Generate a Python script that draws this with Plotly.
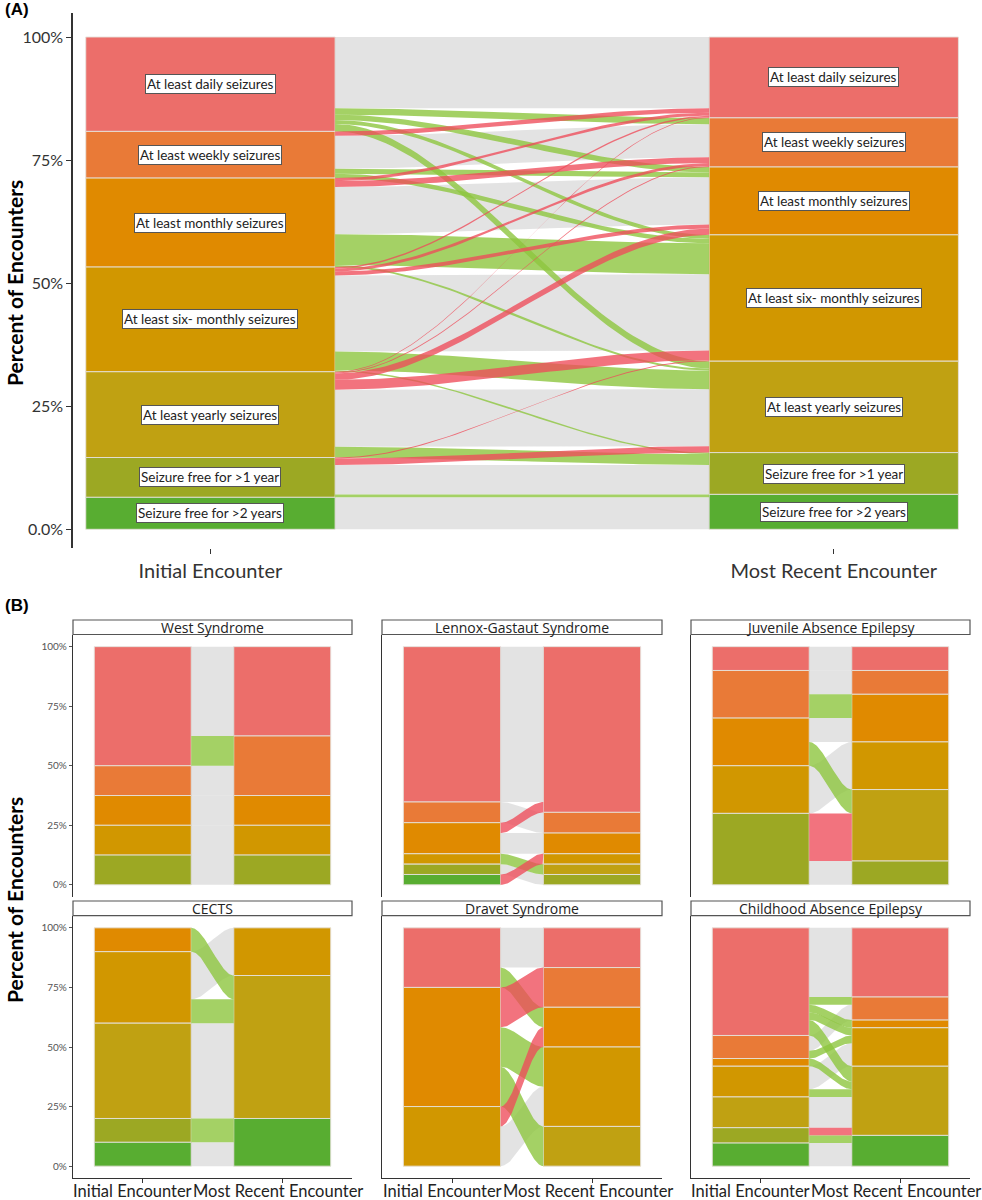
import numpy as np
import plotly.graph_objects as go

# ---------------- data ----------------
CATEGORIES = ["At least daily seizures", "At least weekly seizures", "At least monthly seizures",
              "At least six- monthly seizures", "At least yearly seizures",
              "Seizure free for >1 year", "Seizure free for >2 years"]
STRATUM_COLORS = ["#EC6E6A", "#E97A37", "#E08A00", "#D19700", "#C0A112", "#9CA823", "#58AD31"]
AXIS_LABELS = ["Initial Encounter", "Most Recent Encounter"]
Y_TICKS = [0, 25, 50, 75, 100]
Y_TICKTEXT_A = ["0.0%", "25%", "50%", "75%", "100%"]
Y_TICKTEXT_B = ["0%", "25%", "50%", "75%", "100%"]

# Panel A: transitions (percent of encounters), index into CATEGORIES
A_from = [0, 0, 0, 0, 0,
          1, 1, 1, 1,
          2, 2, 2, 2, 2,
          3, 3, 3, 3, 3, 3,
          4, 4, 4, 4, 4, 4,
          5, 5, 5, 5,
          6]
A_to = [0, 1, 2, 3, 4,
        0, 1, 2, 3,
        0, 1, 2, 3, 4,
        0, 1, 2, 3, 4, 5,
        0, 1, 2, 3, 4, 5,
        3, 4, 5, 6,
        6]
A_pct = [14.5, 1.3, 1.1, 0.8, 1.5,
         0.9, 6.7, 1.0, 0.9,
         0.6, 1.2, 9.6, 6.3, 0.4,
         0.3, 0.6, 0.8, 15.5, 3.8, 0.3,
         0.15, 0.2, 1.3, 2.0, 11.6, 2.2,
         0.2, 1.3, 6.0, 0.6,
         6.5]

# Panel B: encounter counts per syndrome
FACET_TITLES = ["West Syndrome", "Lennox-Gastaut Syndrome", "Juvenile Absence Epilepsy",
                "CECTS", "Dravet Syndrome", "Childhood Absence Epilepsy"]
west_from = [0, 0, 1, 2, 3, 5]
west_to = [0, 1, 1, 2, 3, 5]
west_n = [3, 1, 1, 1, 1, 1]
lgs_from = [0, 1, 2, 2, 3, 5, 6]
lgs_to = [0, 1, 0, 2, 4, 5, 3]
lgs_n = [15, 2, 1, 2, 1, 1, 1]
jae_from = [0, 1, 1, 2, 2, 3, 5, 5]
jae_to = [0, 1, 2, 2, 4, 3, 4, 5]
jae_n = [1, 1, 1, 1, 1, 2, 2, 1]
cects_from = [2, 3, 3, 4, 5, 6]
cects_to = [4, 3, 4, 4, 6, 6]
cects_n = [1, 2, 1, 4, 1, 1]
dravet_from = [0, 0, 2, 2, 2, 3, 3]
dravet_to = [0, 2, 1, 3, 4, 2, 3]
dravet_n = [2, 1, 2, 2, 2, 1, 2]
cae_from = [0, 0, 0, 0, 0, 1, 1, 2, 3, 3, 4, 5, 5, 6]
cae_to = [0, 1, 2, 3, 4, 1, 3, 4, 3, 4, 4, 4, 6, 6]
cae_n = [9, 1, 1, 1, 2, 2, 1, 1, 3, 1, 4, 1, 1, 3]

FACETS = [(west_from, west_to, west_n), (lgs_from, lgs_to, lgs_n), (jae_from, jae_to, jae_n),
          (cects_from, cects_to, cects_n), (dravet_from, dravet_to, dravet_n), (cae_from, cae_to, cae_n)]

# ---------------- styling ----------------
GRAY = "rgba(200,200,200,0.5)"
GREEN = "rgba(141,198,63,0.8)"
RED = "rgba(238,75,90,0.78)"
W, H = 982, 1200


def px_x(p):
    return p / W


def px_y(p):
    return 1 - p / H


def alluvial(frm, to, val):
    n = len(CATEGORIES)
    tot = float(sum(val))
    pct = [v / tot * 100 for v in val]
    L = [sum(p for f, p in zip(frm, pct) if f == i) for i in range(n)]
    R = [sum(p for t, p in zip(to, pct) if t == j) for j in range(n)]
    ltop = [100 - sum(L[:i]) for i in range(n)]
    rtop = [100 - sum(R[:j]) for j in range(n)]
    lpos, rpos = {}, {}
    cur = list(ltop)
    for k in sorted(range(len(pct)), key=lambda k: (frm[k], to[k])):
        lpos[k] = (cur[frm[k]], cur[frm[k]] - pct[k])
        cur[frm[k]] -= pct[k]
    cur = list(rtop)
    for k in sorted(range(len(pct)), key=lambda k: (to[k], frm[k])):
        rpos[k] = (cur[to[k]], cur[to[k]] - pct[k])
        cur[to[k]] -= pct[k]
    return pct, L, R, ltop, rtop, lpos, rpos


fig = go.Figure()


def add_panel(frm, to, val, xa, ya, bw, labels=False, label_size=13.5):
    pct, L, R, ltop, rtop, lpos, rpos = alluvial(frm, to, val)
    xl, xr = 1 + bw / 2, 2 - bw / 2
    t = np.linspace(0, 1, 60)
    s = t * t * (3 - 2 * t)
    xs = xl + (xr - xl) * t
    order = sorted(range(len(pct)), key=lambda k: 0 if frm[k] == to[k] else 1)
    for k in order:
        lt, lb = lpos[k]
        rt, rb = rpos[k]
        top = lt + (rt - lt) * s
        bot = lb + (rb - lb) * s
        if frm[k] == to[k]:
            col = GRAY
        elif to[k] > frm[k]:
            col = GREEN
        else:
            col = RED
        fig.add_trace(go.Scatter(
            x=np.concatenate([xs, xs[::-1]]), y=np.concatenate([top, bot[::-1]]),
            fill="toself", fillcolor=col, line=dict(width=0), mode="lines",
            hoverinfo="skip", showlegend=False, xaxis=xa, yaxis=ya))
    for side, heights, tops in ((1, L, ltop), (2, R, rtop)):
        ks = [i for i in range(len(CATEGORIES)) if heights[i] > 1e-9]
        fig.add_trace(go.Bar(
            x=[side] * len(ks), y=[heights[i] for i in ks], base=[tops[i] - heights[i] for i in ks],
            width=bw, marker=dict(color=[STRATUM_COLORS[i] for i in ks],
                                 line=dict(color="rgba(230,225,220,0.9)", width=1)),
            hoverinfo="skip", showlegend=False, xaxis=xa, yaxis=ya))
        if labels:
            for i in ks:
                fig.add_annotation(
                    x=side, y=tops[i] - heights[i] / 2, xref=xa, yref=ya,
                    text=CATEGORIES[i], showarrow=False, bgcolor="white", bordercolor="#555",
                    borderwidth=1, borderpad=1, font=dict(family="Lato", size=label_size, color="#222"))


# Panel A
add_panel(A_from, A_to, A_pct, "x", "y", 0.4, labels=True)

# Panel B
COLS = [(73, 352), (382, 662), (691, 970)]
ROWS = [(634.5, 897.0, 620.0), (915.7, 1178.3, 901.0)]
for f, (frm, to, n) in enumerate(FACETS):
    add_panel(frm, to, n, "x%d" % (f + 2), "y%d" % (f + 2), 0.695)

layout = dict(
    width=W, height=H, autosize=False, margin=dict(l=0, r=0, t=0, b=0, autoexpand=False),
    paper_bgcolor="white", plot_bgcolor="white", barmode="overlay", showlegend=False,
    font=dict(family="Lato", color="#333"),
)
layout["xaxis"] = dict(domain=[px_x(73), px_x(970)], range=[0.7795, 2.2186], anchor="y",
                       tickvals=[1, 2], ticktext=AXIS_LABELS, showline=False, showgrid=False,
                       zeroline=False, ticks="outside", ticklen=5, tickcolor="#333",
                       automargin=False, tickangle=0,
                       tickfont=dict(family="Lato", size=20, color="#333"))
layout["yaxis"] = dict(domain=[px_y(548), px_y(13)], range=[-3.8, 104.88], anchor="x",
                       tickvals=Y_TICKS, ticktext=Y_TICKTEXT_A, showline=True, linecolor="#333",
                       linewidth=1.5, showgrid=False, zeroline=False, ticks="outside", ticklen=5,
                       automargin=False,
                       tickcolor="#333", tickfont=dict(family="Lato", size=16, color="#333"))
LABEL_SHIFT = [-10, -4]
for f in range(6):
    r, c = divmod(f, 3)
    x0, x1 = COLS[c]
    y0, y1, ys = ROWS[r]
    xa = "xaxis%d" % (f + 2)
    ya = "yaxis%d" % (f + 2)
    layout[xa] = dict(domain=[px_x(x0), px_x(x1)], range=[0.5, 2.5], anchor="y%d" % (f + 2),
                      tickvals=[1, 2], ticktext=AXIS_LABELS, showgrid=False, zeroline=False,
                      showline=(r == 1), linecolor="#333", linewidth=1.2,
                      ticks="outside" if r == 1 else "", ticklen=4, tickcolor="#333",
                      showticklabels=False, automargin=False)
    layout[ya] = dict(domain=[px_y(y1), px_y(y0)], range=[-5.1, 105.1], anchor="x%d" % (f + 2),
                      tickvals=Y_TICKS, ticktext=Y_TICKTEXT_B, showgrid=False, zeroline=False,
                      showline=True, linecolor="#333", linewidth=1.2,
                      ticks="outside" if c == 0 else "", ticklen=3, tickcolor="#555",
                      showticklabels=(c == 0), automargin=False,
                      tickfont=dict(family="Lato", size=10, color="#555"))
    if r == 1:
        for k, lab in enumerate(AXIS_LABELS):
            fig.add_annotation(x=k + 1, y=px_y(1191), xref="x%d" % (f + 2), yref="paper",
                               text=lab, showarrow=False, xanchor="center", yanchor="middle",
                               xshift=LABEL_SHIFT[k],
                               font=dict(family="Lato", size=16.5, color="#222"))
    # facet strip
    fig.add_shape(type="rect", xref="paper", yref="paper", x0=px_x(x0), x1=px_x(x1),
                  y0=px_y(y0), y1=px_y(ys), line=dict(color="#555", width=1.2), fillcolor="white")
    fig.add_annotation(x=px_x((x0 + x1) / 2), y=px_y((y0 + ys) / 2), xref="paper", yref="paper",
                       text=FACET_TITLES[f], showarrow=False, xanchor="center", yanchor="middle",
                       font=dict(family="Open Sans", size=14, color="#222"))

fig.update_layout(**layout)

# panel letters and axis titles
fig.add_annotation(x=px_x(3), y=px_y(10), xref="paper", yref="paper", text="<b>(A)</b>",
                   showarrow=False, xanchor="left", yanchor="middle",
                   font=dict(family="Liberation Sans", size=17, color="black"))
fig.add_annotation(x=px_x(3), y=px_y(605), xref="paper", yref="paper", text="<b>(B)</b>",
                   showarrow=False, xanchor="left", yanchor="middle",
                   font=dict(family="Liberation Sans", size=17, color="black"))
for yc in (283, 900):
    fig.add_annotation(x=px_x(14), y=px_y(yc), xref="paper", yref="paper",
                       text="<b>Percent of Encounters</b>", textangle=-90, showarrow=False,
                       xanchor="center", yanchor="middle",
                       font=dict(family="Lato", size=21, color="black"))

fig.write_html("out.html")
